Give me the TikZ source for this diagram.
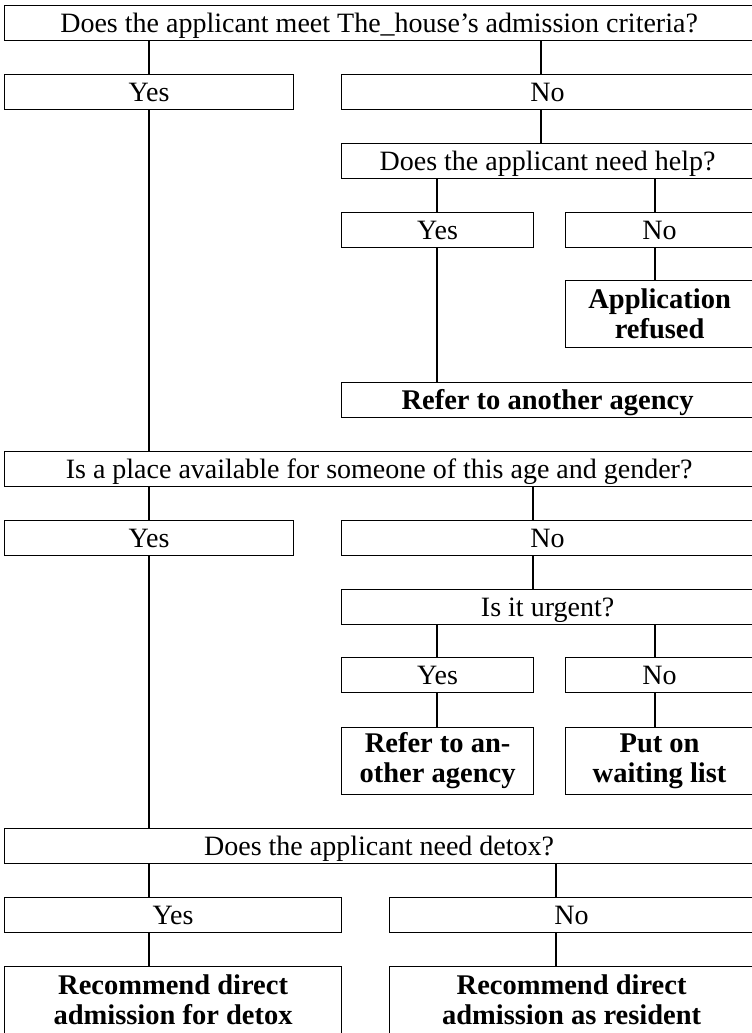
\documentclass[tikz,border=0pt]{standalone}
\usepackage{fontspec}
\setmainfont{Liberation Serif}
\begin{document}
\begin{tikzpicture}[x=1pt,y=-1pt,line width=1.2pt,
    box/.style={draw,anchor=north west,inner sep=0pt,minimum height=35pt,font=\fontsize{28}{30}\selectfont},
    qbox/.style={box,text height=18.5pt,text depth=0pt},
    abox/.style={box,minimum height=67pt,align=center,font=\fontsize{28.5}{30}\selectfont\bfseries}]
    \useasboundingbox (0,0) rectangle (752,1033);
    \coordinate (c1) at (149,0);
    \coordinate (c2) at (541,0);
    \coordinate (c3) at (437,0);
    \coordinate (c4) at (655,0);
    \coordinate (c5) at (533,0);
    \coordinate (c6) at (556,0);
    % admission criteria
    \node[qbox,minimum width=749pt] (crit) at (4,5) {Does the applicant meet The\_house's admission criteria?};
    \node[qbox,minimum width=289pt] (yesA) at (4,74) {Yes};
    \node[qbox,minimum width=412pt] (noA) at (341,74) {No};
    \node[qbox,minimum width=412pt] (help) at (341,143) {Does the applicant need help?};
    \node[qbox,minimum width=192pt] (yesB) at (341,212) {Yes};
    \node[qbox,minimum width=188pt] (noB) at (565,212) {No};
    \node[abox,minimum width=188pt] (refused) at (565,280) {Application\\refused};
    \node[qbox,minimum width=412pt,font=\fontsize{28.5}{30}\selectfont\bfseries] (referA) at (341,382) {Refer to another agency};
    % place available
    \node[qbox,minimum width=749pt] (place) at (4,451) {Is a place available for someone of this age and gender?};
    \node[qbox,minimum width=289pt] (yesC) at (4,520) {Yes};
    \node[qbox,minimum width=412pt] (noC) at (341,520) {No};
    \node[qbox,minimum width=412pt] (urgent) at (341,589) {Is it urgent?};
    \node[qbox,minimum width=192pt] (yesD) at (341,657) {Yes};
    \node[qbox,minimum width=188pt] (noD) at (565,657) {No};
    \node[abox,minimum width=192pt] (referB) at (341,727) {Refer to an-\\other agency};
    \node[abox,minimum width=188pt] (wait) at (565,727) {Put on\\waiting list};
    % detox
    \node[qbox,minimum width=749pt] (detox) at (4,828) {Does the applicant need detox?};
    \node[qbox,minimum width=337pt] (yesE) at (4,897) {Yes};
    \node[qbox,minimum width=364pt] (noE) at (389,897) {No};
    \node[abox,minimum width=337pt] (recDetox) at (4,966) {Recommend direct\\admission for detox};
    \node[abox,minimum width=364pt] (recRes) at (389,966) {Recommend direct\\admission as resident};
    % connectors
    \draw (crit.south -| c1) -- (yesA.north -| c1);
    \draw (crit.south -| c2) -- (noA.north -| c2);
    \draw (noA.south -| c2) -- (help.north -| c2);
    \draw (help.south -| c3) -- (yesB.north -| c3);
    \draw (help.south -| c4) -- (noB.north -| c4);
    \draw (noB.south -| c4) -- (refused.north -| c4);
    \draw (yesB.south -| c3) -- (referA.north -| c3);
    \draw (yesA.south -| c1) -- (place.north -| c1);
    \draw (place.south -| c1) -- (yesC.north -| c1);
    \draw (place.south -| c5) -- (noC.north -| c5);
    \draw (noC.south -| c5) -- (urgent.north -| c5);
    \draw (urgent.south -| c3) -- (yesD.north -| c3);
    \draw (urgent.south -| c4) -- (noD.north -| c4);
    \draw (yesD.south -| c3) -- (referB.north -| c3);
    \draw (noD.south -| c4) -- (wait.north -| c4);
    \draw (yesC.south -| c1) -- (detox.north -| c1);
    \draw (detox.south -| c1) -- (yesE.north -| c1);
    \draw (detox.south -| c6) -- (noE.north -| c6);
    \draw (yesE.south -| c1) -- (recDetox.north -| c1);
    \draw (noE.south -| c6) -- (recRes.north -| c6);
\end{tikzpicture}
\end{document}
